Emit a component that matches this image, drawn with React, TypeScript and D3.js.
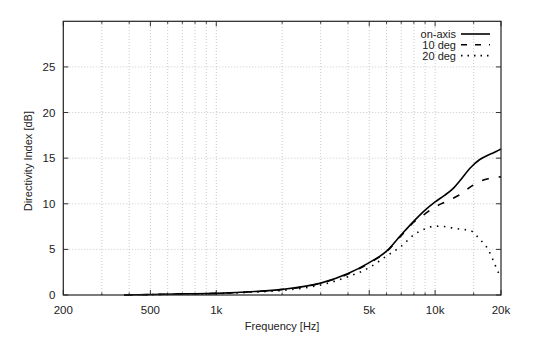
import * as d3 from "d3";

// Frequencies (Hz) where the curves were sampled
const freqs = [380, 500, 700, 1000, 1500, 2000, 3000, 4000, 5000, 6000, 7000, 8000, 9000, 10000, 11000, 12000, 13000, 14500, 16000, 17500, 18500, 19250, 20000];
const onAxis = [0, 0.05, 0.12, 0.18, 0.38, 0.62, 1.3, 2.35, 3.55, 4.8, 6.6, 8.1, 9.3, 10.2, 10.9, 11.6, 12.55, 13.95, 14.85, 15.35, 15.6, 15.8, 16.0];
const tenDeg = [0, 0.05, 0.12, 0.18, 0.38, 0.6, 1.28, 2.3, 3.5, 4.75, 6.5, 8.0, 8.9, 9.66, 10.15, 10.58, 11.0, 11.85, 12.45, 12.75, 12.85, 12.92, 12.95];
const twentyDeg = [0, 0.04, 0.1, 0.15, 0.32, 0.5, 1.1, 2.0, 3.0, 4.27, 5.35, 6.6, 7.25, 7.55, 7.5, 7.35, 7.22, 7.05, 6.1, 4.95, 3.7, 2.7, 1.9];

const majorX = [200, 500, 1000, 5000, 10000, 20000];
const majorXLabels = ["200", "500", "1k", "5k", "10k", "20k"];
const minorX = [300, 400, 600, 700, 800, 900, 2000, 3000, 4000, 6000, 7000, 8000, 9000, 15000];
const yTicks = [0, 5, 10, 15, 20, 25];

const series = [
  { name: "on-axis", values: onAxis, dash: "none" },
  { name: "10 deg", values: tenDeg, dash: "7,10" },
  { name: "20 deg", values: twentyDeg, dash: "1.5,5.5" },
];

const W = 533;
const H = 352;
const m = { left: 63.3, right: 32, top: 21.3, bottom: 57 };
const font = "'Liberation Sans', Arial, sans-serif";

export default function App() {
  const x = d3.scaleLog().domain([200, 20000]).range([m.left, W - m.right]);
  const y = d3.scaleLinear().domain([0, 30]).range([H - m.bottom, m.top]);
  const x0 = m.left;
  const x1 = W - m.right;
  const y0 = H - m.bottom;
  const y1 = m.top;

  const line = d3
    .line<number>()
    .x((_, i) => x(freqs[i]))
    .y((v) => y(v))
    .curve(d3.curveMonotoneX);

  return (
    <svg
      width={W}
      height={H}
      style={{ position: "absolute", left: 0, top: 0, background: "#fff" }}
      fontFamily={font}
    >
      {/* grid */}
      <g stroke="#c8c8c8" strokeWidth={1} strokeDasharray="1,2">
        {[...majorX.slice(1, -1), ...minorX].map((f) => (
          <line key={"gx" + f} x1={x(f)} x2={x(f)} y1={y0} y2={y1} />
        ))}
        {yTicks.slice(1).map((v) => (
          <line key={"gy" + v} x1={x0} x2={x1} y1={y(v)} y2={y(v)} />
        ))}
      </g>

      {/* ticks */}
      <g stroke="#333" strokeWidth={1}>
        {majorX.map((f) => (
          <g key={"mx" + f}>
            <line x1={x(f)} x2={x(f)} y1={y0} y2={y0 - 5} />
            <line x1={x(f)} x2={x(f)} y1={y1} y2={y1 + 5} />
          </g>
        ))}
        {minorX.map((f) => (
          <g key={"nx" + f}>
            <line x1={x(f)} x2={x(f)} y1={y0} y2={y0 - 2.5} />
            <line x1={x(f)} x2={x(f)} y1={y1} y2={y1 + 2.5} />
          </g>
        ))}
        {yTicks.map((v) => (
          <g key={"ty" + v}>
            <line x1={x0} x2={x0 + 5} y1={y(v)} y2={y(v)} />
            <line x1={x1} x2={x1 - 5} y1={y(v)} y2={y(v)} />
          </g>
        ))}
      </g>

      {/* curves */}
      {series.map((s) => (
        <path
          key={s.name}
          d={line(s.values) ?? ""}
          fill="none"
          stroke="#000"
          strokeWidth={1.6}
          strokeDasharray={s.dash}
        />
      ))}

      {/* frame */}
      <rect x={x0} y={y1} width={x1 - x0} height={y0 - y1} fill="none" stroke="#222" strokeWidth={1.2} />

      {/* tick labels */}
      <g fontSize={11.5} fill="#222">
        {majorX.map((f, i) => (
          <text key={"lx" + f} x={x(f)} y={y0 + 19} textAnchor="middle">
            {majorXLabels[i]}
          </text>
        ))}
        {yTicks.map((v) => (
          <text key={"ly" + v} x={x0 - 8} y={y(v) + 4} textAnchor="end">
            {v}
          </text>
        ))}
      </g>

      {/* axis titles */}
      <text x={(x0 + x1) / 2} y={330} textAnchor="middle" fontSize={11} fill="#222">
        Frequency [Hz]
      </text>
      <text
        transform={`translate(32,${(y0 + y1) / 2 + 3}) rotate(-90)`}
        textAnchor="middle"
        fontSize={11}
        fill="#222"
      >
        Directivity Index [dB]
      </text>

      {/* legend */}
      {series.map((s, i) => (
        <g key={"lg" + s.name}>
          <text x={456} y={38 + i * 10.8} textAnchor="end" fontSize={11} fill="#222">
            {s.name}
          </text>
          <line
            x1={461}
            x2={490}
            y1={34 + i * 10.8}
            y2={34 + i * 10.8}
            stroke="#000"
            strokeWidth={1.6}
            strokeDasharray={s.dash === "none" ? "none" : s.dash === "7,10" ? "6,8" : "1.5,5"}
          />
        </g>
      ))}
    </svg>
  );
}
